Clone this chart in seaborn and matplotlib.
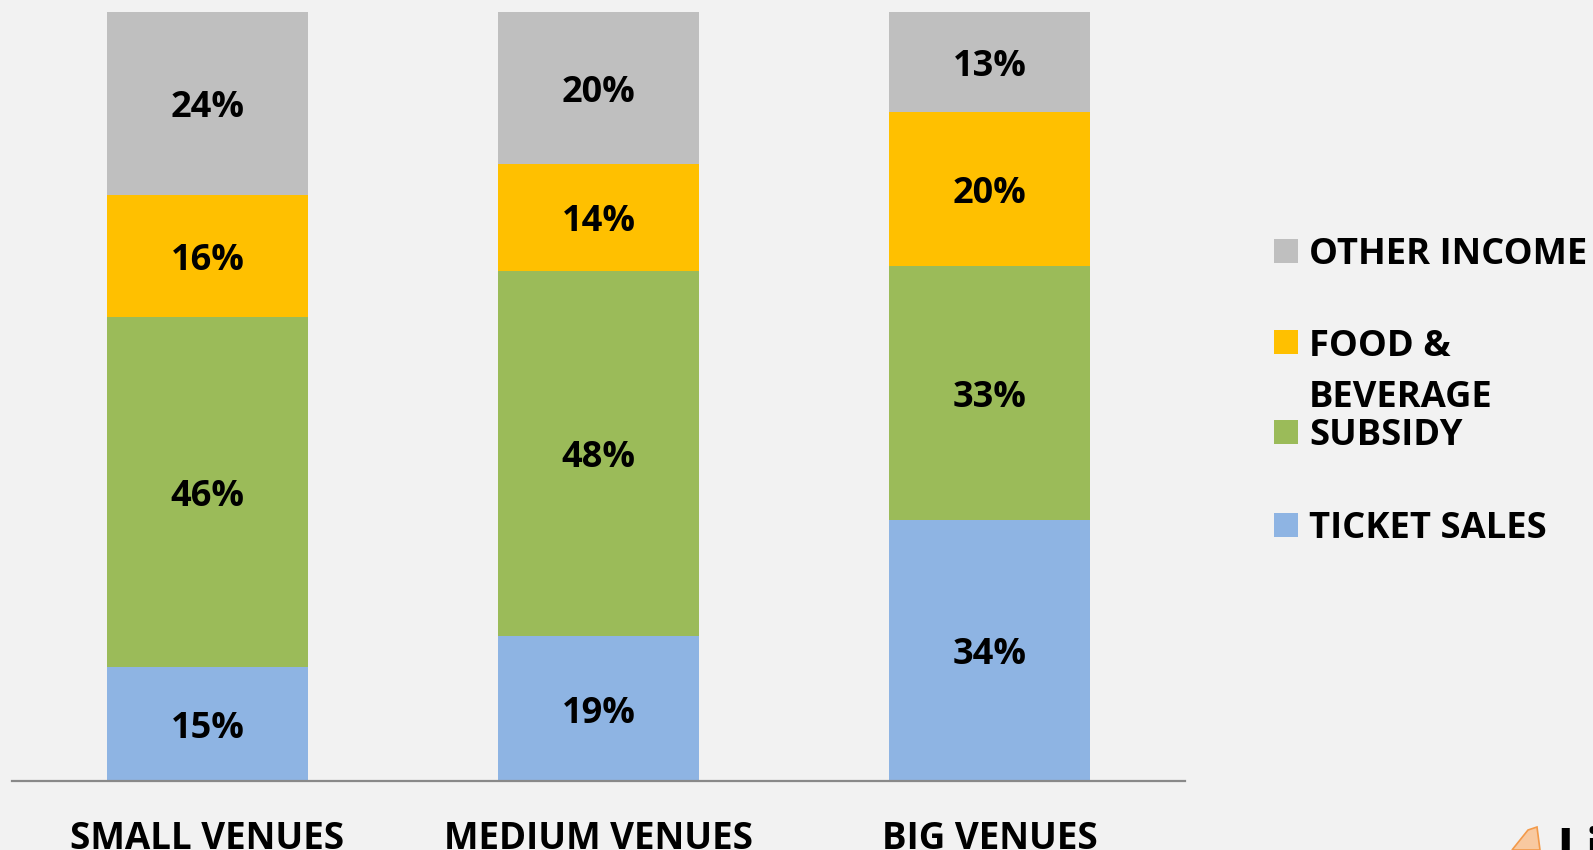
import numpy as np
import pandas as pd
import matplotlib
matplotlib.use("Agg")
import matplotlib.pyplot as plt
from matplotlib.patches import Rectangle, Polygon
import seaborn as sns

# ---- data ----
venues = ["SMALL VENUES", "MEDIUM VENUES", "BIG VENUES"]
ticket_sales = [15, 19, 34]
subsidy = [46, 48, 33]
food_beverage = [16, 14, 20]
other_income = [24, 20, 13]
series_names = ["TICKET SALES", "SUBSIDY", "FOOD &\nBEVERAGE", "OTHER INCOME"]
colors = ["#8EB4E3", "#9BBB59", "#FFC000", "#BFBFBF"]

sns.set_theme(style="white")
plt.rcParams["font.family"] = ["Open Sans", "DejaVu Sans"]

W, H = 1593, 850
bg = "#F2F2F2"
fig = plt.figure(figsize=(W / 100, H / 100), dpi=100, facecolor=bg)
ax = fig.add_axes([12 / W, 69 / H, 1173 / W, 769 / H])
ax.set_facecolor(bg)

vals = np.array([ticket_sales, subsidy, food_beverage, other_income], dtype=float)
totals = vals.sum(axis=0)
fracs = vals / totals

bottom = np.zeros(len(venues))
for i, name in enumerate(series_names):
    df = pd.DataFrame({"venue": venues, "share": fracs[i]})
    sns.barplot(data=df, x="venue", y="share", order=venues, color=colors[i],
                width=0.514, bottom=bottom, saturation=1, ax=ax,
                edgecolor="none", linewidth=0)
    cont = ax.containers[-1]
    anns = ax.bar_label(cont, labels=[f"{int(v)}%" for v in vals[i]], label_type="center",
                        fontsize=26, fontweight="bold", color="black")
    for a in anns:
        a.xyann = (0, -3.5)
    bottom = bottom + fracs[i]

ax.set_xlim(-0.5, 2.5)
ax.set_ylim(0, 1)
ax.set_xlabel("")
ax.set_ylabel("")
ax.set_yticks([])
for s in ["top", "left", "right"]:
    ax.spines[s].set_visible(False)
ax.spines["bottom"].set_color("#898989")
ax.spines["bottom"].set_linewidth(1.6)
ax.tick_params(axis="x", length=0, pad=28)
for lab in ax.get_xticklabels():
    lab.set_fontsize(26.5)
    lab.set_fontweight("bold")
    lab.set_color("black")

# ---- legend (manual, in figure pixels) ----
legend_rows = [("OTHER INCOME", colors[3], 251),
               ("FOOD &", colors[2], 342),
               ("SUBSIDY", colors[1], 432),
               ("TICKET SALES", colors[0], 525)]
for label, col, yc in legend_rows:
    fig.patches.append(Rectangle((1274 / W, 1 - (yc + 12) / H), 24 / W, 24 / H,
                                 transform=fig.transFigure, facecolor=col,
                                 edgecolor="none"))
    fig.text(1309 / W, 1 - yc / H, label, fontsize=26.2, fontweight="bold",
             va="center_baseline", ha="left", color="black")
fig.text(1309 / W, 1 - 393 / H, "BEVERAGE", fontsize=26.2, fontweight="bold",
         va="center_baseline", ha="left", color="black")

# ---- cropped logo in the corner ----
fig.patches.append(Polygon([(1512 / W, 1 - 850 / H), (1528 / W, 1 - 830 / H),
                            (1537 / W, 1 - 827 / H), (1540 / W, 1 - 850 / H)],
                           closed=True, transform=fig.transFigure,
                           facecolor="#F8C9A0", edgecolor="#F39A4A", linewidth=1.2))
fig.text(1556 / W, 1 - 826 / H, "Li", fontsize=38, fontweight="bold",
         va="top", ha="left", color="black")

fig.savefig("out.png", dpi=100, facecolor=bg)
